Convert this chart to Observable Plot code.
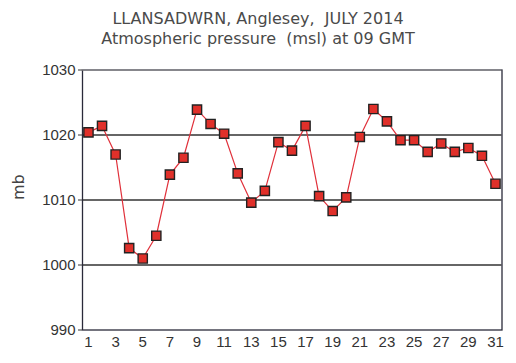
<!DOCTYPE html>
<html>
<head>
<meta charset="utf-8">
<script src="https://cdn.jsdelivr.net/npm/d3@7"></script>
<script src="https://cdn.jsdelivr.net/npm/@observablehq/plot@0.6"></script>
<style>
  html, body { margin: 0; padding: 0; background: #fff; }
  #wrap { width: 516px; }
  .title { font-family: "DejaVu Sans", Verdana, sans-serif; font-size: 16px; color: #4a4a4a; text-align: center; white-space: pre; line-height: 20px; }
  #titles { height: 55px; box-sizing: border-box; padding-top: 9px; padding-left: 0px; }
</style>
</head>
<body>
<div id="wrap">
  <div id="titles">
    <div class="title">LLANSADWRN, Anglesey,  JULY 2014</div>
    <div class="title">Atmospheric pressure  (msl) at 09 GMT</div>
  </div>
  <div id="chart"></div>
</div>
<script>
const days = d3.range(1, 32);
const pressure = [1020.4, 1021.4, 1017.0, 1002.6, 1001.0, 1004.5, 1013.9, 1016.5, 1023.9, 1021.7,
                  1020.2, 1014.1, 1009.6, 1011.4, 1018.9, 1017.6, 1021.4, 1010.6, 1008.3, 1010.4,
                  1019.7, 1024.0, 1022.1, 1019.2, 1019.2, 1017.4, 1018.7, 1017.4, 1018.0, 1016.8, 1012.5];
const xTicks = [1, 3, 5, 7, 9, 11, 13, 15, 17, 19, 21, 23, 25, 27, 29, 31];
const yTicks = [990, 1000, 1010, 1020, 1030];
const gridLines = [1000, 1010, 1020];
const yLabel = "mb";

const data = days.map((d, i) => ({day: d, p: pressure[i]}));

const chart = Plot.plot({
  width: 516,
  height: 308,
  marginLeft: 82,
  marginRight: 14.5,
  marginTop: 14.5,
  marginBottom: 33.5,
  style: { fontFamily: "Arial, 'Liberation Sans', sans-serif", fontSize: "15px", color: "#333", background: "#fff" },
  x: { domain: [0.56, 31.48], ticks: xTicks, tickFormat: d => String(d), tickSize: 0, tickPadding: 6, label: null },
  y: { domain: [990, 1030], ticks: yTicks, tickFormat: d => String(d), tickSize: 4, tickPadding: 3, label: null },
  marks: [
    Plot.ruleY(gridLines, { stroke: "#333", strokeWidth: 1.3 }),
    Plot.frame({ stroke: "#2a2a3a", strokeWidth: 1.3 }),
    Plot.ruleY([1030], { stroke: "#999", strokeWidth: 1.2 }),
    Plot.line(data, { x: "day", y: "p", stroke: "#e0303a", strokeWidth: 1.2 }),
    Plot.dot(data, { x: "day", y: "p", symbol: "square", r: 5.2, fill: "#e0302a", stroke: "#222", strokeWidth: 1.4 }),
    Plot.text([yLabel], { frameAnchor: "left", dx: -64, rotate: -90, text: d => d, fontSize: 16, fill: "#444", fontFamily: "'DejaVu Sans', Verdana, sans-serif" })
  ]
});
document.getElementById("chart").appendChild(chart);
</script>
</body>
</html>
